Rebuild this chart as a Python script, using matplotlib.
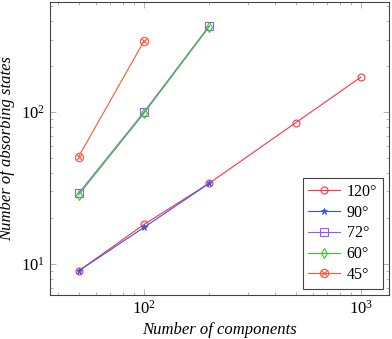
import numpy as np
import matplotlib
matplotlib.use('Agg')
import matplotlib.pyplot as plt
from matplotlib.ticker import LogLocator, NullFormatter
from matplotlib.legend_handler import HandlerTuple

# Font simile a Times, come nel grafico originale
plt.rcParams['font.family'] = ['Liberation Serif', 'DejaVu Serif']
plt.rcParams['mathtext.fontset'] = 'stix'

# Dati
x_120 = [50, 100, 200, 500, 1000]
y_120 = [9.0, 18.2, 34.0, 85.0, 170.0]
x_90 = [50, 100, 200]
y_90 = [9.0, 17.4, 34.0]
x_72 = [50, 100, 200]
y_72 = [29.2, 100.0, 370.0]
x_60 = [50, 100, 200]
y_60 = [28.5, 98.0, 365.0]
x_45 = [50, 100]
y_45 = [50.8, 293.0]

labels = ['120°', '90°', '72°', '60°', '45°']

fig = plt.figure(figsize=(3.92, 3.39), dpi=100)
ax = fig.add_axes([50 / 392, 44 / 339, 339 / 392, 293 / 339])
ax.set_xscale('log')
ax.set_yscale('log')

lw = 0.8
h120, = ax.plot(x_120, y_120, color='#ff3344', lw=lw, marker='o', ms=5,
                mfc='none', mew=0.8)
h90, = ax.plot(x_90, y_90, color='#3355ee', lw=lw, marker='*', ms=5, mew=0.6)
h72, = ax.plot(x_72, y_72, color='#9955ff', lw=lw, marker='s', ms=6,
               mfc='none', mew=0.8)
h60, = ax.plot(x_60, y_60, color='#33cc22', lw=lw, marker='d', ms=5,
               mfc='none', mew=0.8)
h45, = ax.plot(x_45, y_45, color='#ff5533', lw=lw, marker='o', ms=6,
               mfc='none', mew=0.8)
h45x, = ax.plot(x_45, y_45, color='#ff5533', lw=0, marker='x', ms=4, mew=0.8)

ax.set_xlim(36.9, 1346)
ax.set_ylim(6.25, 530)

# Tick verso l'interno su tutti i lati, stile pgfplots
ax.tick_params(which='both', direction='in', top=True, right=True,
               labelsize=12, width=0.5, color='#999999')
ax.tick_params(which='major', length=4)
ax.tick_params(which='minor', length=2)
ax.xaxis.set_minor_locator(LogLocator(subs=np.arange(2, 10)))
ax.yaxis.set_minor_locator(LogLocator(subs=np.arange(2, 10)))
ax.xaxis.set_minor_formatter(NullFormatter())
ax.yaxis.set_minor_formatter(NullFormatter())
for s in ax.spines.values():
    s.set_color('#444444')
    s.set_linewidth(0.8)

ax.set_xlabel('Number of components', fontsize=12, style='italic', labelpad=3)
ax.set_ylabel('Number of absorbing states', fontsize=12, style='italic',
              labelpad=4)

leg = ax.legend([h120, h90, h72, h60, (h45, h45x)], labels,
                handler_map={tuple: HandlerTuple(ndivide=1, pad=0)},
                loc='lower right', fontsize=11.5, fancybox=False,
                edgecolor='#444444', framealpha=1, handlelength=2.0,
                borderaxespad=0.4, labelspacing=0.3, handletextpad=0.4,
                borderpad=0.35)
leg.get_frame().set_linewidth(0.8)

fig.savefig('out.png', dpi=100)
